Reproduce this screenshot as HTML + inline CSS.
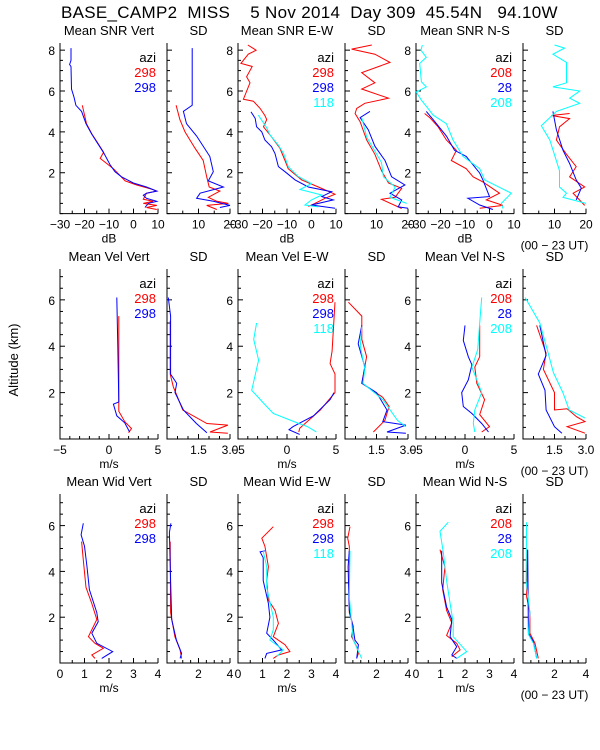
<!DOCTYPE html>
<html><head><meta charset="utf-8">
<style>
html,body{margin:0;padding:0;background:#fff;}
svg{display:block;font-family:"Liberation Sans",sans-serif;}
</style></head>
<body>
<svg id="chart" width="600" height="750" viewBox="0 0 600 750">
<text x="61" y="18" font-size="17" letter-spacing="0.3" style="white-space:pre">BASE_CAMP2  MISS    5 Nov 2014  Day 309  45.54N   94.10W</text>
<text transform="translate(18,360) rotate(-90)" text-anchor="middle" font-size="13">Altitude (km)</text>
</svg>
<script>
// ---------- data ----------
// Row 1: SNR (dB)
const r1p1_red_alt=[5.3,4.4,3.9,3.5,3.0,2.7,2.2,1.6,1.4,1.2,1.1,1.0,0.7,0.6,0.5,0.4,0.3,0.2];
const r1p1_red_val=[-20.9,-19.2,-17,-14.8,-12.2,-13.6,-8.2,-3.4,1.3,7.4,9.5,5.3,4.0,8.1,4.0,9.5,5.3,9.5];
const r1p1_blue_alt=[8.1,7.5,7.3,7.2,6.1,5.7,5.3,5.0,4.4,3.9,3.5,3.0,2.4,2.05,1.8,1.5,1.3,1.1,1.0,0.9,0.75,0.6,0.5,0.3];
const r1p1_blue_val=[-25.5,-25.5,-26.1,-25.5,-25.3,-24.3,-23.5,-21.2,-19.4,-17.1,-15,-12.3,-9.6,-7.6,-4.9,-0.1,5.3,9.5,5.3,4.0,5.3,9.5,6.0,4.7];
const r1p2_red_alt=[5.3,4.6,4.0,3.2,2.6,1.8,1.3,1.1,0.8,0.6,0.5,0.4,0.2];
const r1p2_red_val=[2.9,4.1,5.7,8.9,11.5,12.6,13.4,16.8,13.1,15.8,19.5,12.6,15.8];
const r1p2_blue_alt=[8.1,5.3,5.0,4.4,3.8,2.8,2.05,1.6,1.3,1.0,0.75,0.6,0.4,0.3];
const r1p2_blue_val=[8,8,5.2,6.2,9.4,13.6,14.7,13.1,17.9,10.5,9.4,14.7,20,16.8];
const r1p3_red_alt=[8.25,8.0,7.8,7.35,7.2,6.7,6.4,5.6,5.5,5.15,4.8,4.6,4.25,3.75,3.2,2.6,2.2,1.65,1.3,0.95,0.75,0.5,0.35];
const r1p3_red_val=[-26,-22.6,-25.8,-28.8,-24.2,-26.5,-25.1,-27.8,-23.7,-21,-19,-18.3,-19.6,-16.3,-12.9,-10.8,-9.5,-4,2.8,9.6,5.5,1.4,-1.3];
const r1p3_blue_alt=[4.98,4.66,4.25,4.0,3.6,3.27,2.94,2.3,2.05,1.65,1.3,1.07,0.83,0.67,0.42,0.26];
const r1p3_blue_val=[-24.7,-23,-22.4,-20.3,-19,-16.3,-14.9,-13.5,-10.8,-6.7,-1.3,8.2,4.2,8.9,0,9.6];
const r1p3_cyan_alt=[4.82,4.2,3.84,3.35,2.94,2.3,1.81,1.47,1.18,0.91,0.67,0.42,0.33];
const r1p3_cyan_val=[-21.7,-18.3,-16.9,-13.5,-11.4,-9.5,-5.4,0,-4.7,4.2,0,-2.7,2.8];
const r1p4_red_alt=[8.25,8.05,7.8,7.4,6.9,6.4,6.1,5.65,5.4,5.15,4.9,4.5,3.6,2.9,2.1,1.5,1.24,0.8,0.7,0.25];
const r1p4_red_val=[8.5,2.1,9.5,14.3,5.3,9.5,5.3,13.8,6.3,3.7,3.2,4.8,6.9,9.5,11.6,13.8,18,15.9,11.6,18];
const r1p4_blue_alt=[5.0,4.7,4.1,3.3,2.6,1.8,1.4,1.0,0.67,0.33,0.26];
const r1p4_blue_val=[7.9,4.8,7.4,9.5,12.7,14.8,19,14.3,18,16.9,20];
const r1p4_cyan_alt=[4.7,3.75,2.5,1.8,1.3,0.8,0.5];
const r1p4_cyan_val=[5.3,6.9,11.6,12.2,15.9,14.3,19.6];
const r1p5_red_alt=[4.9,4.7,4.25,3.6,3.1,2.6,2.2,1.8,1.55,1.0,0.67,0.4,0.26];
const r1p5_red_val=[-26.5,-24.4,-21,-17.6,-13.5,-15.6,-9.5,-6.7,-2.7,4.1,-1.3,5.5,-4];
const r1p5_blue_alt=[5.0,4.6,3.8,3.1,2.8,1.98,1.65,0.83,0.75,0.42,0.2];
const r1p5_blue_val=[-25.8,-23,-17.6,-14.3,-9.5,-4,-2.7,0,-8.8,-4,1.4];
const r1p5_cyan_alt=[8.25,8.0,7.65,7.35,6.45,6.2,5.95,5.55,5.15,4.82,4.4,3.6,2.8,2.2,1.65,1.0,0.5,0.25];
const r1p5_cyan_val=[-27.4,-28,-25.8,-28.5,-27.8,-25.8,-29.9,-27.8,-25.1,-23,-17.6,-14.9,-10.8,-4,-2,8.9,4.8,5.5];
const r1p6_red_alt=[4.9,4.8,4.65,4.25,3.6,2.9,2.3,1.8,1.3,1.0,0.4];
const r1p6_red_val=[14.8,9,14.8,11.6,10.6,13.8,16.9,14.8,19.6,15.9,19.6];
const r1p6_blue_alt=[5.0,4.1,3.1,2.45,1.65,1.25,0.67];
const r1p6_blue_val=[9.5,10.6,12.7,14.8,16.9,18.5,16.9];
const r1p6_cyan_alt=[8.25,8.1,7.8,7.4,6.4,6.2,6.0,5.65,5.4,5.0,4.3,3.6,2.1,1.3,1.0,0.8,0.5];
const r1p6_cyan_val=[10,13.2,9.5,13.8,13.8,9.5,18,14.8,18,10.6,5.8,8.5,11.6,11.6,13.8,12.7,20];
// Row 2: Velocity (m/s)
const r2p1_red_alt=[5.3,2.0,1.2,0.75,0.45,0.27];
const r2p1_red_val=[1.0,1.0,1.0,1.6,2.3,2.0];
const r2p1_blue_alt=[6.1,4.0,1.6,1.5,1.0,0.7,0.3];
const r2p1_blue_val=[0.8,0.9,1.0,0.45,0.8,1.6,2.1];
const r2p2_red_alt=[5.1,2.8,2.25,1.25,0.67,0.6,0.3,0.25];
const r2p2_red_val=[0.15,0.15,0.3,0.75,1.9,2.9,2.05,2.9];
const r2p2_blue_alt=[6.1,5.3,2.8,2.4,2.0,1.25,0.67,0.27];
const r2p2_blue_val=[0.06,0.17,0.17,0.46,0.38,0.78,1.4,1.9];
const r2p3_red_alt=[5.9,3.8,3.25,2.8,2.0,1.25,0.46,0.3];
const r2p3_red_val=[4.9,4.6,4.4,4.9,4.9,3.4,1.3,1.2];
const r2p3_blue_alt=[2.0,1.7,1.0,0.53,0.4,0.2];
const r2p3_blue_val=[4.8,4.4,2.7,0.6,0.2,1.3];
const r2p3_cyan_alt=[5.0,4.3,3.4,2.1,1.55,1.1,0.67,0.53,0.3];
const r2p3_cyan_val=[-3.1,-3.4,-2.9,-3.6,-2.4,-1.4,1.2,2.1,3.0];
const r2p4_red_alt=[5.9,5.3,4.3,3.55,2.4,1.8,1.4,0.8,0.3];
const r2p4_red_val=[0.16,0.8,0.8,1.03,0.8,1.8,2.1,1.9,1.35];
const r2p4_blue_alt=[4.9,4.1,3.1,2.4,2.0,1.25,0.75,0.6,0.3,0.25];
const r2p4_blue_val=[0.8,0.63,0.95,0.8,1.5,2.0,1.8,2.9,2.0,2.9];
const r2p4_cyan_alt=[4.85,4.0,3.0,2.4,1.7,0.8,0.53];
const r2p4_cyan_val=[0.8,0.73,0.95,0.85,1.8,2.5,2.9];
const r2p5_red_alt=[4.9,3.55,3.1,2.4,1.7,1.05,0.53,0.3];
const r2p5_red_val=[1.5,1.5,1.0,1.2,2.0,1.5,2.5,1.7];
const r2p5_blue_alt=[4.9,4.25,3.55,3.2,2.55,2.0,1.4,1.1,0.67,0.3];
const r2p5_blue_val=[0,-0.17,0.34,0.7,0.34,-0.34,-0.17,0.7,1.7,2.4];
const r2p5_cyan_alt=[6.1,5.0,3.85,3.1,2.0,1.25,0.67,0.3];
const r2p5_cyan_val=[1.7,1.5,1.3,0.7,1.7,1.0,0.85,1.0];
const r2p6_red_alt=[4.9,3.7,3.0,2.0,1.25,1.3,0.96,0.75,0.53,0.25];
const r2p6_red_val=[0.65,1.1,0.97,1.5,1.5,2.1,2.55,2.95,2.1,2.95];
const r2p6_blue_alt=[4.9,3.6,2.8,2.1,1.25,0.53,0.25];
const r2p6_blue_val=[0.8,1.1,0.73,1.05,1.1,1.5,1.85];
const r2p6_cyan_alt=[6.1,5.0,3.7,2.85,2.0,1.25,0.9];
const r2p6_cyan_val=[0.1,0.8,1.2,1.45,1.9,2.2,2.95];
// Row 3: Width (m/s)
const r3p1_red_alt=[5.3,4.5,3.3,2.6,1.9,1.15,0.86,0.64,0.35,0.2];
const r3p1_red_val=[0.88,0.95,1.06,1.3,1.5,1.16,1.43,1.77,1.3,1.43];
const r3p1_blue_alt=[6.1,5.6,5.1,4.2,3.2,2.2,1.8,1.3,0.86,0.5,0.2];
const r3p1_blue_val=[0.95,0.86,1.0,1.1,1.2,1.5,1.56,1.3,1.5,2.15,1.7];
const r3p2_red_alt=[5.3,2.2,1.15,0.57,0.2];
const r3p2_red_val=[0.2,0.23,0.5,0.83,0.93];
const r3p2_blue_alt=[6.1,5.7,3.6,1.9,1.0,0.42,0.2];
const r3p2_blue_val=[0.25,0.15,0.23,0.3,0.6,0.93,0.83];
const r3p3_red_alt=[5.95,5.45,5.1,4.2,3.6,2.75,2.3,1.73,1.15,0.8,0.5,0.35,0.2];
const r3p3_red_val=[1.44,0.97,1.1,1.24,1.17,1.24,1.51,1.65,1.44,1.92,2.12,1.65,1.44];
const r3p3_blue_alt=[4.9,4.85,4.6,3.6,2.6,2.0,1.3,1.0,0.57,0.42,0.2];
const r3p3_blue_val=[1.1,0.9,1.03,1.03,1.24,1.3,1.17,1.44,1.78,1.17,1.1];
const r3p3_cyan_alt=[4.9,4.2,3.3,2.0,1.45,1.0,0.57,0.28];
const r3p3_cyan_val=[1.03,1.17,1.17,1.44,1.44,1.3,1.85,1.58];
const r3p4_red_alt=[5.95,5.45,5.1,2.2,1.6,1.15,0.71,0.42,0.2];
const r3p4_red_val=[0.32,0.17,0.27,0.27,0.53,0.42,0.74,0.85,0.74];
const r3p4_blue_alt=[4.9,4.2,2.3,1.6,1.0,0.8,0.2];
const r3p4_blue_val=[0.27,0.2,0.27,0.5,0.63,0.85,0.74];
const r3p4_cyan_alt=[4.9,2.9,1.75,1.0,0.2];
const r3p4_cyan_val=[0.32,0.27,0.42,0.53,1.06];
const r3p5_red_alt=[4.95,4.2,3.2,2.3,1.75,1.2,0.86,0.57,0.28];
const r3p5_red_val=[0.98,1.18,1.09,1.25,1.46,1.25,1.66,1.8,1.46];
const r3p5_blue_alt=[4.9,3.5,2.45,1.9,1.15,0.71,0.35,0.2];
const r3p5_blue_val=[1.05,1.05,1.25,1.46,1.39,1.66,1.46,1.66];
const r3p5_cyan_alt=[6.15,5.75,4.8,3.6,2.6,1.75,1.15,0.5,0.2];
const r3p5_cyan_val=[1.32,0.98,1.12,1.25,1.39,1.52,1.52,2.07,1.66];
const r3p6_red_alt=[4.95,2.9,2.2,1.3,0.86,0.2];
const r3p6_red_val=[0.28,0.23,0.44,0.44,0.76,0.97];
const r3p6_blue_alt=[4.95,1.3,0.93,0.2];
const r3p6_blue_val=[0.3,0.34,0.66,0.87];
const r3p6_cyan_alt=[6.15,3.6,2.2,1.25,0.86,0.2];
const r3p6_cyan_val=[0.23,0.2,0.44,0.34,0.66,0.87];

const rowTitles=[["Mean SNR Vert","SD","Mean SNR E-W","SD","Mean SNR N-S","SD"],
 ["Mean Vel Vert","SD","Mean Vel E-W","SD","Mean Vel N-S","SD"],
 ["Mean Wid Vert","SD","Mean Wid E-W","SD","Mean Wid N-S","SD"]];
const legendAzi=[["298","298"],["298","298","118"],["208","28","208"]];

// ---------- layout ----------
const svg=document.getElementById('chart');
const NS='http://www.w3.org/2000/svg';
const colX=[[60,158],[167,230],[238,336],[345,408],[416,514],[523,586]];
const rows=[{top:43,bot:213.6,ymax:8.35,mean:[-30,10],sd:[0,20],meanT:[-30,-20,-10,0,10],sdT:[10,20],unit:"dB",minM:5,minS:5},
 {top:269,bot:439,ymax:7.33,mean:[-5,5],sd:[0,3],meanT:[-5,0,5],sdT:[1.5,3.0],unit:"m/s",minM:1,minS:0.5},
 {top:494,bot:663,ymax:7.38,mean:[0,4],sd:[0,4],meanT:[0,1,2,3,4],sdT:[2,4],unit:"m/s",minM:0.5,minS:0.5}];
const colors={red:"#ff0000",blue:"#0000ff",cyan:"#00ffff"};
const seriesData={};
[[r1p1_red_alt,r1p1_red_val,'r1p1_red'],[r1p1_blue_alt,r1p1_blue_val,'r1p1_blue'],
 [r1p2_red_alt,r1p2_red_val,'r1p2_red'],[r1p2_blue_alt,r1p2_blue_val,'r1p2_blue'],
 [r1p3_red_alt,r1p3_red_val,'r1p3_red'],[r1p3_blue_alt,r1p3_blue_val,'r1p3_blue'],[r1p3_cyan_alt,r1p3_cyan_val,'r1p3_cyan'],
 [r1p4_red_alt,r1p4_red_val,'r1p4_red'],[r1p4_blue_alt,r1p4_blue_val,'r1p4_blue'],[r1p4_cyan_alt,r1p4_cyan_val,'r1p4_cyan'],
 [r1p5_red_alt,r1p5_red_val,'r1p5_red'],[r1p5_blue_alt,r1p5_blue_val,'r1p5_blue'],[r1p5_cyan_alt,r1p5_cyan_val,'r1p5_cyan'],
 [r1p6_red_alt,r1p6_red_val,'r1p6_red'],[r1p6_blue_alt,r1p6_blue_val,'r1p6_blue'],[r1p6_cyan_alt,r1p6_cyan_val,'r1p6_cyan'],
 [r2p1_red_alt,r2p1_red_val,'r2p1_red'],[r2p1_blue_alt,r2p1_blue_val,'r2p1_blue'],
 [r2p2_red_alt,r2p2_red_val,'r2p2_red'],[r2p2_blue_alt,r2p2_blue_val,'r2p2_blue'],
 [r2p3_red_alt,r2p3_red_val,'r2p3_red'],[r2p3_blue_alt,r2p3_blue_val,'r2p3_blue'],[r2p3_cyan_alt,r2p3_cyan_val,'r2p3_cyan'],
 [r2p4_red_alt,r2p4_red_val,'r2p4_red'],[r2p4_blue_alt,r2p4_blue_val,'r2p4_blue'],[r2p4_cyan_alt,r2p4_cyan_val,'r2p4_cyan'],
 [r2p5_red_alt,r2p5_red_val,'r2p5_red'],[r2p5_blue_alt,r2p5_blue_val,'r2p5_blue'],[r2p5_cyan_alt,r2p5_cyan_val,'r2p5_cyan'],
 [r2p6_red_alt,r2p6_red_val,'r2p6_red'],[r2p6_blue_alt,r2p6_blue_val,'r2p6_blue'],[r2p6_cyan_alt,r2p6_cyan_val,'r2p6_cyan'],
 [r3p1_red_alt,r3p1_red_val,'r3p1_red'],[r3p1_blue_alt,r3p1_blue_val,'r3p1_blue'],
 [r3p2_red_alt,r3p2_red_val,'r3p2_red'],[r3p2_blue_alt,r3p2_blue_val,'r3p2_blue'],
 [r3p3_red_alt,r3p3_red_val,'r3p3_red'],[r3p3_blue_alt,r3p3_blue_val,'r3p3_blue'],[r3p3_cyan_alt,r3p3_cyan_val,'r3p3_cyan'],
 [r3p4_red_alt,r3p4_red_val,'r3p4_red'],[r3p4_blue_alt,r3p4_blue_val,'r3p4_blue'],[r3p4_cyan_alt,r3p4_cyan_val,'r3p4_cyan'],
 [r3p5_red_alt,r3p5_red_val,'r3p5_red'],[r3p5_blue_alt,r3p5_blue_val,'r3p5_blue'],[r3p5_cyan_alt,r3p5_cyan_val,'r3p5_cyan'],
 [r3p6_red_alt,r3p6_red_val,'r3p6_red'],[r3p6_blue_alt,r3p6_blue_val,'r3p6_blue'],[r3p6_cyan_alt,r3p6_cyan_val,'r3p6_cyan']
].forEach(([a,v,k])=>{seriesData[k]={alt:a,val:v};});

function mk(tag,attrs,parent){const e=document.createElementNS(NS,tag);for(const k in attrs)e.setAttribute(k,attrs[k]);(parent||svg).appendChild(e);return e;}
function yS(r,a){const R=rows[r];return R.bot-(R.bot-R.top)*a/R.ymax;}
function xS(r,c,v){const R=rows[r];const d=(c%2===0)?R.mean:R.sd;const [x0,x1]=colX[c];return x0+(x1-x0)*(v-d[0])/(d[1]-d[0]);}

for(let r=0;r<3;r++){
  const R=rows[r];
  for(let c=0;c<6;c++){
    const [x0,x1]=colX[c];
    const g=mk('g',{});
    
    
    const t=mk('text',{x:(x0+x1)/2,y:R.top-8,'text-anchor':'middle','font-size':13},g);
    t.textContent=rowTitles[r][c];
    
    
    const ax=mk('path',{d:`M${x0},${R.top}V${R.bot}H${x1}`,stroke:'#000','stroke-width':1,fill:'none'},g);
    
    
    for(let a=0;a<=R.ymax;a+=0.5){
      const y=yS(r,a);const major=Math.abs(a%2)<1e-6&&a>0;
      mk('line',{x1:x0,x2:x0+(major?5:3),y1:y,y2:y,stroke:'#000'},g);
      if(major&&c%2===0){const lt=mk('text',{x:x0-5,y:y+5,'text-anchor':'end','font-size':12},g);lt.textContent=String(a);
        
        }
    }
    const d=(c%2===0)?R.mean:R.sd;const step=(c%2===0)?R.minM:R.minS;
    for(let v=d[0];v<=d[1]+1e-6;v+=step){const x=xS(r,c,v);mk('line',{x1:x,x2:x,y1:R.bot,y2:R.bot-3,stroke:'#000'},g);}
    const ticks=(c%2===0)?R.meanT:R.sdT;
    ticks.forEach(v=>{const x=xS(r,c,v);mk('line',{x1:x,x2:x,y1:R.bot,y2:R.bot-5,stroke:'#000'},g);
      const tl=mk('text',{x:x,y:R.bot+15,'text-anchor':'middle','font-size':12},g);
      tl.textContent=(r===1&&c%2===1)?v.toFixed(1):String(v).replace('-','\u2212');
      
      });
    if(c%2===0){const u=mk('text',{x:(x0+x1)/2,y:R.bot+29,'text-anchor':'middle','font-size':12},g);u.textContent=R.unit;
      
      }
    if(c===5){const u=mk('text',{x:(x0+x1)/2,y:R.bot+36,'text-anchor':'middle','font-size':12},g);u.textContent='(00 \u2212 23 UT)';
      
      }
    if(c%2===0){
      const lg=mk('g',{},g);
      
      
      const labs=['azi'].concat(legendAzi[c/2]);const cols=['#000','#ff0000','#0000ff','#00ffff'];
      labs.forEach((s,i)=>{const e=mk('text',{x:x1-2,y:R.top+19+i*15,'text-anchor':'end','font-size':13,fill:cols[i]},lg);e.textContent=s;
        
        });
    }
    ['red','blue','cyan'].forEach(col=>{
      const s=seriesData['r'+(r+1)+'p'+(c+1)+'_'+col];
      if(!s)return;
      const pts=s.alt.map((a,i)=>xS(r,c,s.val[i]).toFixed(1)+','+yS(r,a).toFixed(1)).join(' ');
      const pl=mk('polyline',{points:pts,fill:'none',stroke:colors[col],'stroke-width':1},g);
      
      
    });
  }
}
</script>
</body></html>
